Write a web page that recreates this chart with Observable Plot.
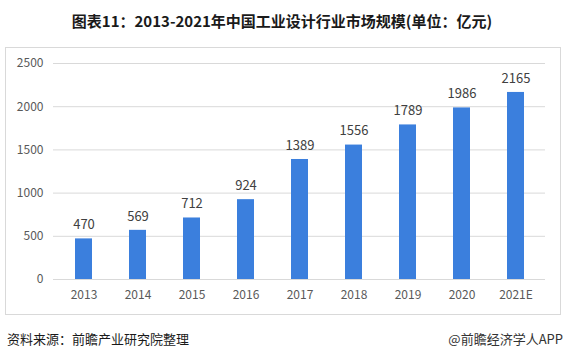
<!DOCTYPE html>
<html><head><meta charset="utf-8">
<script src="https://cdn.jsdelivr.net/npm/d3@7"></script>
<script src="https://cdn.jsdelivr.net/npm/@observablehq/plot@0.6"></script>
<style>
body{margin:0;background:#fff;font-family:"Noto Sans CJK SC","Noto Sans",sans-serif;}
#wrap{position:relative;width:564px;height:358px;overflow:hidden;}
#title{position:absolute;left:0;width:564px;top:10px;text-align:center;font-size:15px;font-weight:bold;color:#1a1a1a;line-height:22px;}
#box{position:absolute;left:5px;top:47px;width:554px;height:266px;border:1px solid #d9d9d9;}
#chart{position:absolute;left:0;top:47px;}
#src{position:absolute;left:7px;top:330px;font-size:13px;color:#1a1a1a;line-height:18px;}
#app{position:absolute;right:1px;top:330px;font-size:13px;color:#333;line-height:18px;}
</style></head>
<body><div id="wrap">
<div id="title">图表11：2013-2021年中国工业设计行业市场规模(单位：亿元)</div>
<div id="box"></div>
<div id="chart"></div>
<div id="src">资料来源：前瞻产业研究院整理</div>
<div id="app">@前瞻经济学人APP</div>
</div>
<script>
const years = ["2013","2014","2015","2016","2017","2018","2019","2020","2021E"];
const values = [470,569,712,924,1389,1556,1789,1986,2165];
const yTicks = [0,500,1000,1500,2000,2500];
const data = years.map((y,i)=>({year:y,value:values[i]}));
const chart = Plot.plot({
  width:564, height:268,
  marginTop:16, marginBottom:36, marginLeft:53, marginRight:19,
  style:{fontFamily:"'Noto Sans CJK SC','Noto Sans',sans-serif",fontSize:"12px",background:"transparent",overflow:"visible"},
  x:{domain:years,paddingInner:0.69,paddingOuter:0.345,label:null},
  y:{domain:[0,2500],label:null},
  marks:[
    Plot.gridY(yTicks,{stroke:"#d9d9d9",strokeOpacity:1}),
    Plot.barY(data,{x:"year",y:"value",fill:"#3b7fdd"}),
    Plot.text(data,{x:"year",y:"value",text:d=>String(d.value),dy:-14,fill:"#404040",fontSize:13}),
    Plot.axisX({tickSize:0,tickPadding:11,fill:"#595959",fontSize:12}),
    Plot.axisY(yTicks,{tickSize:0,tickPadding:10,fill:"#595959",fontSize:12,tickFormat:d=>String(d)})
  ]
});
document.getElementById("chart").appendChild(chart);
</script>
</body></html>
